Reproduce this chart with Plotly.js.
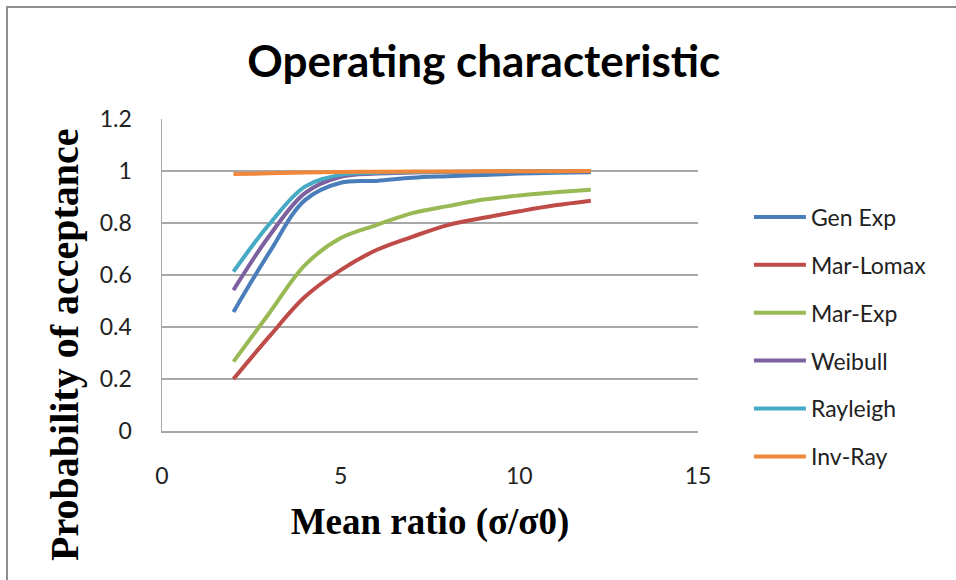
<!DOCTYPE html>
<html>
<head>
<meta charset="utf-8">
<script src="https://cdn.plot.ly/plotly-3.0.1.min.js"></script>
<style>
  html, body { margin: 0; padding: 0; background: #fff; }
  #wrap { position: relative; width: 956px; height: 580px; overflow: hidden; }
  #frame { position: absolute; left: 6px; top: 6px; width: 960px; height: 590px;
           border-top: 2px solid #8e8e8e; border-left: 2px solid #8e8e8e; pointer-events: none; }
  #chart { position: absolute; left: 0; top: 0; width: 956px; height: 580px; }
</style>
</head>
<body>
<div id="wrap">
  <div id="chart"></div>
  <div id="frame"></div>
</div>
<script>
// ---- data ----
const meanRatio = [2, 3, 4, 5, 6, 7, 8, 9, 10, 11, 12];
const genExp    = [0.458, 0.686, 0.888, 0.955, 0.962, 0.974, 0.980, 0.985, 0.990, 0.993, 0.995];
const marLomax  = [0.200, 0.363, 0.516, 0.619, 0.696, 0.747, 0.792, 0.820, 0.845, 0.868, 0.886];
const marExp    = [0.267, 0.453, 0.638, 0.742, 0.792, 0.838, 0.865, 0.890, 0.906, 0.918, 0.928];
const weibull   = [0.542, 0.750, 0.915, 0.978, 0.990, 0.994, 0.996, 0.997, 0.998, 0.999, 0.999];
const rayleigh  = [0.613, 0.795, 0.940, 0.985, 0.993, 0.996, 0.997, 0.998, 0.999, 0.999, 1.000];
const invRay    = [0.988, 0.991, 0.994, 0.996, 0.997, 0.998, 0.998, 0.999, 0.999, 0.999, 1.000];

const seriesNames = ["Gen Exp", "Mar-Lomax", "Mar-Exp", "Weibull", "Rayleigh", "Inv-Ray"];
const seriesData  = [genExp, marLomax, marExp, weibull, rayleigh, invRay];
const seriesColors = ["#4A7EBB", "#BE4B48", "#98B954", "#7D60A0", "#46AAC5", "#F0883C"];

const yTickVals = [0, 0.2, 0.4, 0.6, 0.8, 1, 1.2];
const yTickText = ["0", "0.2", "0.4", "0.6", "0.8", "1", "1.2"];
const xTickVals = [0, 5, 10, 15];
const xTickText = ["0", "5", "10", "15"];

const traces = seriesNames.map((name, i) => ({
  type: "scatter",
  mode: "lines",
  name: name,
  x: meanRatio,
  y: seriesData[i],
  legendgroup: "g" + i,
  line: { color: seriesColors[i], width: 4, shape: "spline", smoothing: 1 }
}));

const layout = {
  width: 956,
  height: 580,
  margin: { l: 162, r: 258, t: 119, b: 149 },
  paper_bgcolor: "#ffffff",
  plot_bgcolor: "#ffffff",
  showlegend: true,
  title: {
    text: "Operating characteristic",
    font: { family: "Lato, 'Open Sans', sans-serif", size: 44, color: "#000000", weight: 700 },
    x: 0.506, xanchor: "center",
    y: 0.893, yanchor: "middle"
  },
  xaxis: {
    range: [0, 15],
    tickmode: "array",
    tickvals: xTickVals,
    ticktext: xTickText,
    showgrid: false,
    zeroline: false,
    showline: true,
    linecolor: "#a6a6a6",
    linewidth: 1.5,
    ticks: "",
    ticklabelstandoff: 24,
    tickfont: { family: "Lato, 'Open Sans', sans-serif", size: 23, color: "#222" },
    title: {
      text: "Mean ratio (σ/σ0)",
      font: { family: "'Liberation Serif', 'Times New Roman', serif", size: 37, color: "#000", weight: 700 },
      standoff: 20
    },
    automargin: false,
    fixedrange: true
  },
  yaxis: {
    range: [0, 1.2],
    tickmode: "array",
    tickvals: yTickVals,
    ticktext: yTickText,
    showgrid: true,
    gridcolor: "#a8a8a8",
    gridwidth: 1.5,
    zeroline: false,
    showline: true,
    linecolor: "#a6a6a6",
    linewidth: 1.5,
    ticks: "",
    ticklabelstandoff: 24,
    tickfont: { family: "Lato, 'Open Sans', sans-serif", size: 23, color: "#222" },
    automargin: false,
    fixedrange: true
  },
  legend: {
    x: 1.095, xanchor: "left",
    y: 0.755, yanchor: "top",
    font: { family: "Lato, 'Open Sans', sans-serif", size: 23, color: "#222" },
    bgcolor: "rgba(0,0,0,0)",
    tracegroupgap: 15,
    itemwidth: 52
  },
  annotations: [{
    text: "Probability of acceptance",
    xref: "paper", yref: "paper",
    x: -0.181, y: 0.279,
    xanchor: "center", yanchor: "middle",
    textangle: -90,
    showarrow: false,
    font: { family: "'Liberation Serif', 'Times New Roman', serif", size: 40, color: "#000", weight: 700 }
  }]
};

Plotly.newPlot("chart", traces, layout, { displayModeBar: false, staticPlot: true });
</script>
</body>
</html>
